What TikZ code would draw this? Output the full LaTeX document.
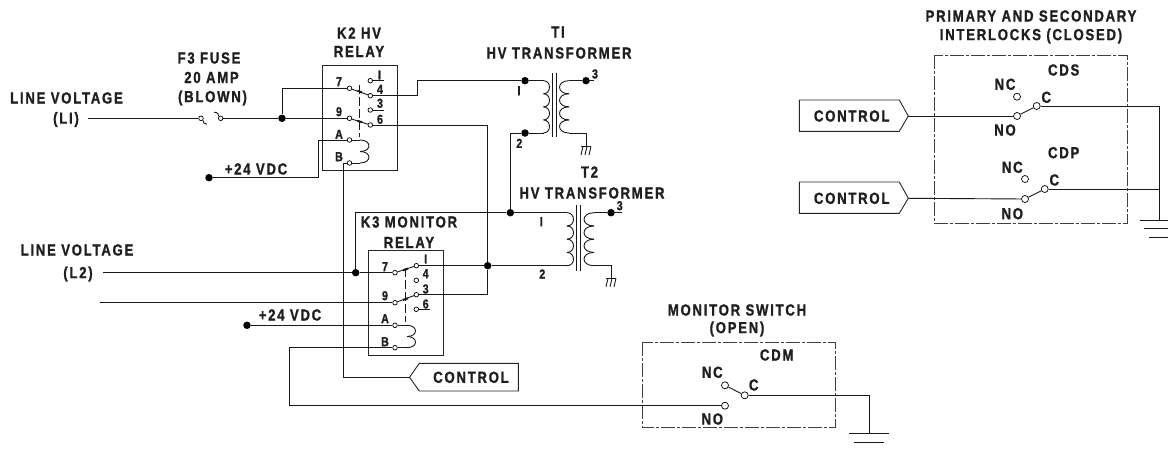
\documentclass[tikz,border=0pt]{standalone}
\usepackage{fontspec}
\setmainfont{Liberation Sans}[BoldFeatures={FakeStretch=0.82,LetterSpace=11,FakeBold=1.2}]
\newcommand{\coilpath}[5]{% cusp x, bulge x, y0, y1, n
  \pgfmathsetmacro{\coilh}{(#4-#3)/#5}
  \pgfmathsetmacro{\coilc}{#1+1.33*(#2-#1)}
  \foreach \ci in {1,...,#5}{
    \pgfmathsetmacro{\coila}{#3+(\ci-1)*\coilh}
    \pgfmathsetmacro{\coilb}{#3+\ci*\coilh}
    \draw[wire] (#1,\coila) .. controls (\coilc,\coila) and (\coilc,\coilb) .. (#1,\coilb);
  }}
\newcommand{\hatchgnd}[2]{% x centre, y
  \draw[wire] (#1-5,#2) -- (#1+5,#2);
  \foreach \hi in {-4,0,4} \draw[wire] (#1+\hi+1,#2) -- (#1+\hi-1,#2+8.5);}
\tikzset{
  x=1pt,y=-1pt,
  wire/.style={line width=0.9pt,draw=black!90},
  boxline/.style={line width=0.9pt,draw=black!85},
  dashbox/.style={line width=0.8pt,draw=black!75,dash pattern=on 14pt off 2pt on 3pt off 2pt},
  term/.style={circle,draw=black,fill=white,line width=0.7pt,inner sep=0pt,minimum size=4.6pt},
  bigterm/.style={circle,draw=black,fill=white,line width=0.7pt,inner sep=0pt,minimum size=7pt},
  junc/.style={circle,fill=black,inner sep=0pt,minimum size=7.5pt},
  lbl/.style={font=\fontsize{16}{16}\selectfont\bfseries,inner sep=0pt,text=black!88},
  lbs/.style={font=\fontsize{13}{13}\selectfont\bfseries,inner sep=0pt,text=black!88},
}
\begin{document}
\begin{tikzpicture}
\useasboundingbox[fill=white] (0,0) rectangle (1168,450);
% ---------- text labels
\node[lbl] (t1) at (209,58) {F3 FUSE};
\node[lbl] (t2) at (211.5,77.5) {20 AMP};
\node[lbl] (t3) at (212.5,98) {(BLOWN)};
\node[lbl] (t4) at (66.5,98) {LINE VOLTAGE};
\node[lbl] (t5) at (66,119.5) {(LI)};
\node[lbl] (t6) at (77,250) {LINE VOLTAGE};
\node[lbl] (t7) at (78,274) {(L2)};
\node[lbl] (t8) at (359,33) {K2 HV};
\node[lbl] (t9) at (359,51.5) {RELAY};
\node[lbl] (t10) at (558,32) {TI};
\node[lbl] (t11) at (559,53) {HV TRANSFORMER};
\node[lbl] (t12) at (589.5,172) {T2};
\node[lbl] (t13) at (592,193) {HV TRANSFORMER};
\node[lbl] (t14) at (409,222) {K3 MONITOR};
\node[lbl] (t15) at (409,242.5) {RELAY};
\node[lbl] (t16) at (1031,16) {PRIMARY AND SECONDARY};
\node[lbl] (t17) at (1031,36) {INTERLOCKS (CLOSED)};
\node[lbl] (t18) at (737,310) {MONITOR SWITCH};
\node[lbl] (t19) at (737,329) {(OPEN)};
\node[lbl] (t20) at (256,169) {+24 VDC};
\node[lbl] (t21) at (290,315) {+24 VDC};
\node[lbl] (t22) at (1063.7,70) {CDS};
\node[lbl] (t23) at (1063.7,152.7) {CDP};
\node[lbl] (t24) at (776.7,355) {CDM};
\node[lbl] (t25) at (1005,84.3) {NC};
\node[lbl] (t26) at (1046.3,97.3) {C};
\node[lbl] (t27) at (1005,130) {NO};
\node[lbl] (t28) at (1012.3,167.3) {NC};
\node[lbl] (t29) at (1054.3,180) {C};
\node[lbl] (t30) at (1012.3,213.7) {NO};
\node[lbl] (t31) at (712.3,372.3) {NC};
\node[lbl] (t32) at (753.7,385) {C};
\node[lbl] (t33) at (712.3,419) {NO};
% small pin labels K2
\node[lbs] (p1) at (339,81.7) {7};
\node[lbs] (p2) at (339,111.7) {9};
\node[lbs] (p3) at (339,134.3) {A};
\node[lbs] (p4) at (339,156.7) {B};
\node[lbs] (p5) at (379.5,75) {I};
\node[lbs] (p6) at (380,89.3) {4};
\node[lbs] (p7) at (380,103.3) {3};
\node[lbs] (p8) at (380,119.3) {6};
% small pin labels K3
\node[lbs] (q1) at (385,266.7) {7};
\node[lbs] (q2) at (385,295.7) {9};
\node[lbs] (q3) at (385,318.7) {A};
\node[lbs] (q4) at (385,341.7) {B};
\node[lbs] (q5) at (425.7,259) {I};
\node[lbs] (q6) at (425.7,273.7) {4};
\node[lbs] (q7) at (425.7,289) {3};
\node[lbs] (q8) at (425.7,304) {6};
% transformer labels
\node[lbs] (r1) at (519,90.7) {I};
\node[lbs] (r2) at (519.3,143.3) {2};
\node[lbs] (r3) at (595,74) {3};
\node[lbs] (r4) at (541.3,221.7) {I};
\node[lbs] (r5) at (542.3,274) {2};
\node[lbs] (r6) at (619.7,205.7) {3};
% ---------- boxes
\draw[boxline] (322.5,65) rectangle (397,170);
\draw[boxline] (368.3,250) rectangle (443.3,355);
\draw[dashbox] (934,55.3) rectangle (1127.3,223.7);
\draw[dashbox] (642,342) rectangle (835,427.7);
% control tags
\draw[boxline] (799.3,100) -- (899.3,100) -- (908.3,116) -- (899.3,131.3) -- (799.3,131.3) -- cycle;
\node[lbl] (ctla) at (851.7,116) {CONTROL};
\coordinate (ctlat) at (908.3,116);
\draw[boxline] (799.3,182) -- (899.3,182) -- (908.3,198.3) -- (899.3,213.3) -- (799.3,213.3) -- cycle;
\node[lbl] (ctlb) at (851.7,198.3) {CONTROL};
\coordinate (ctlbt) at (908.3,198.3);
\draw[boxline] (409.5,377.3) -- (419.3,363.3) -- (518.3,363.3) -- (518.3,391) -- (419.3,391) -- cycle;
\node[lbl] (ctlc) at (471,377.3) {CONTROL};
\coordinate (ctlct) at (409.5,377.3);
% ---------- terminals
\foreach \n/\x/\y in {k7/349.5/88.3,k9/349.5/118.3,kA/349.5/140,kB/349.5/163,
  k1c/370.3/80.7,k4c/370.3/95.7,k3c/370.3/110,k6c/370.3/125,
  m7/395/272.7,m9/395/302.7,mA/395/325.3,mB/395/347.7,
  m1c/416.3/265.7,m4c/416.3/280.3,m3c/416.3/294.7,m6c/416.3/309.3,
  fa/201/118.3,fb/220.7/118.3}
  \node[term] (\n) at (\x,\y) {};
\foreach \n/\x/\y in {sNC/1017/96.7,sC/1036.7/106,sNO/1017/116,
  pNC/1025/179,pC/1044.7/189,pNO/1025/199,
  dNC/725/385.3,dC/744.7/395.3,dNO/725/405.7}
  \node[bigterm] (\n) at (\x,\y) {};
% junctions
\foreach \n/\x/\y in {j1/282/118.3,j2/209/177.7,j3/525/80.7,j4/525/133,j5/586/80.7,
  j6/510.3/212.7,j7/487.7/265.7,j8/355.7/272.7,j9/611/212.7,j10/247/325.3}
  \node[junc] (\n) at (\x,\y) {};
% ---------- free coordinates
\coordinate (lia) at (88,118.3);
\coordinate (l2a) at (103,272.7);
\coordinate (l9a) at (100,302.7);
\coordinate (c7) at (282,88.3);
\coordinate (c4a) at (417.3,95.7);
\coordinate (c4b) at (417.3,80.7);
\coordinate (c24a) at (318,177.7);
\coordinate (c24b) at (318,140);
\coordinate (c6a) at (487.7,125);
\coordinate (c3a) at (487.7,294.7);
\coordinate (c2a) at (510.3,133);
\coordinate (c8a) at (355.7,212.7);
\coordinate (cBa) at (343.3,163);
\coordinate (cBb) at (343.3,377.3);
\coordinate (cMa) at (289,347.7);
\coordinate (cMb) at (289,405.7);
\coordinate (gs) at (1159,220);
\coordinate (gd) at (869,433.7);
\coordinate (cSt) at (1159,106);
\coordinate (cPt) at (1159,189);
\coordinate (cDt) at (869,395.3);
% ---------- wires
\draw[wire] (lia) -- (fa);
\draw[wire] (fa.south east) .. controls (203,122) and (204,124.5) .. (207,124.2);
\draw[wire] (fb.north west) .. controls (219,115) and (218,112) .. (214,112.2);
\draw[wire] (fb) -- (j1) -- (k9);
\draw[wire] (j1) -- (c7) -- (k7);
\draw[wire] (j2) -- (c24a) -- (c24b) -- (kA);
\draw[wire] (k4c) -- (c4a) -- (c4b) -- (j3);
\draw[wire] (k6c) -- (c6a) -- (j7);
\draw[wire] (k3c) -- (383.5,110);
\draw[wire] (k1c) -- (383.5,80.7);
\draw[wire] (k7) -- (k4c);
\draw[wire] (k9) -- (k6c);
\draw[wire,line width=2pt] (357.5,90.8) -- (362,92.5);
\draw[wire,line width=2pt] (357.5,120.8) -- (362,122.2);
\draw[wire,dash pattern=on 9pt off 3pt] (359.3,85) -- (359.3,137);
% T1
\draw[wire] (j3) -- (543.5,80.7);
\coilpath{543.5}{549.5}{80.7}{133}{4}
\draw[wire] (543.5,133) -- (j4);
\draw[wire] (j4) -- (c2a) -- (j6);
\draw[wire] (552.7,72.7) -- (552.7,137.3);
\draw[wire] (556.7,72.7) -- (556.7,137.3);
\coilpath{569}{559.5}{80.7}{133}{4}
\draw[wire] (569,80.7) -- (j5);
\draw[wire] (586,80.7) -- (594,80.7);
\draw[wire] (569,133) -- (586,133) -- (586,146.5);
\hatchgnd{586}{146.5}
% relay K2 coil
\draw[wire] (kA) -- (360,140);
\coilpath{360}{369}{140}{163}{2}
\draw[wire] (kB) -- (360,163);
\draw[wire] (kB) -- (cBa) -- (cBb) -- (ctlct);
% K3
\draw[wire] (l2a) -- (j8) -- (m7);
\draw[wire] (j8) -- (c8a) -- (j6) -- (567,212.7);
\draw[wire] (l9a) -- (m9);
\draw[wire] (m7) -- (m1c);
\draw[wire] (m9) -- (m3c);
\draw[wire,line width=2pt] (403,270.3) -- (408,268.6);
\draw[wire,line width=2pt] (403,300) -- (408,298.3);
\draw[wire,dash pattern=on 9pt off 3pt] (405.3,268) -- (405.3,322);
\draw[wire] (m1c) -- (j7) -- (567,265.7);
\draw[wire] (m3c) -- (c3a) -- (j7);
\draw[wire] (m6c) -- (429.5,309.3);
\draw[wire] (j10) -- (mA);
\draw[wire] (mA) -- (407,325.3);
\coilpath{407}{415.5}{325.3}{347.7}{2}
\draw[wire] (mB) -- (407,347.7);
\draw[wire] (mB) -- (cMa) -- (cMb) -- (dNO);
% T2
\coilpath{567}{573.5}{212.7}{265.7}{4}
\draw[wire] (576.7,205.3) -- (576.7,270.7);
\draw[wire] (580.3,205.3) -- (580.3,270.7);
\coilpath{594}{584}{212.7}{265.7}{4}
\draw[wire] (594,212.7) -- (j9);
\draw[wire] (611,212.7) -- (621.5,212.7);
\draw[wire] (594,265.7) -- (611,265.7) -- (611,278.3);
\hatchgnd{611}{278.3}
% right-hand switches
\draw[wire] (ctlat) -- (sNO);
\draw[wire] (sNO) -- (sC);
\draw[wire] (sC) -- (cSt) -- (gs);
\draw[wire] (ctlbt) -- (pNO);
\draw[wire] (pNO) -- (pC);
\draw[wire] (pC) -- (cPt);
\draw[wire] (1139.5,220) -- (1168,220);
\draw[wire] (1144,228.4) -- (1168,228.4);
\draw[wire] (1149,237.3) -- (1168,237.3);
% monitor switch
\draw[wire] (dNC) -- (dC);
\draw[wire] (dC) -- (cDt) -- (gd);
\draw[wire] (849.3,433.7) -- (889,433.7);
\draw[wire] (854,442) -- (884,442);
\draw[wire] (859,451) -- (879,451);
\end{tikzpicture}
\end{document}
